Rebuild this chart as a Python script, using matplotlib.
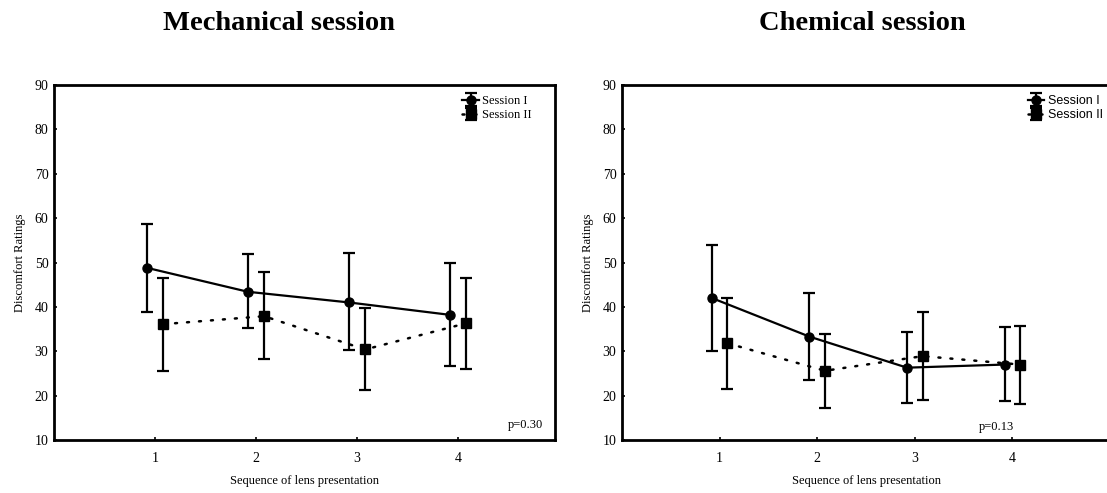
import matplotlib.pyplot as plt

plt.rcParams['font.family'] = ['Liberation Serif', 'DejaVu Serif']

# sequence positions
seq = [1, 2, 3, 4]

# Mechanical session (means, upper and lower ends of the bars)
mech_s1 = [48.8, 43.4, 41.0, 38.2]
mech_s1_hi = [58.6, 51.9, 52.1, 49.8]
mech_s1_lo = [38.9, 35.2, 30.2, 26.7]
mech_s2 = [36.1, 37.9, 30.4, 36.3]
mech_s2_hi = [46.6, 47.8, 39.7, 46.6]
mech_s2_lo = [25.5, 28.2, 21.3, 26.1]

# Chemical session
chem_s1 = [42.0, 33.3, 26.3, 27.0]
chem_s1_hi = [54.0, 43.1, 34.3, 35.4]
chem_s1_lo = [30.0, 23.5, 18.4, 18.7]
chem_s2 = [31.8, 25.6, 28.9, 27.0]
chem_s2_hi = [42.1, 33.9, 38.9, 35.8]
chem_s2_lo = [21.5, 17.2, 19.0, 18.1]

titles = ["Mechanical session", "Chemical session"]
pvals = ["p=0.30", "p=0.13"]
yticks = [10, 20, 30, 40, 50, 60, 70, 80, 90]

W, H = 1107, 493
fig = plt.figure(figsize=(W / 100, H / 100), dpi=100)
ax1 = fig.add_axes([54 / W, 1 - 440 / H, 501 / W, 355 / H])
ax2 = fig.add_axes([622 / W, 1 - 440 / H, 488 / W, 355 / H])

panels = [
    (ax1, mech_s1, mech_s1_lo, mech_s1_hi, mech_s2, mech_s2_lo, mech_s2_hi, 4.96, 532),
    (ax2, chem_s1, chem_s1_lo, chem_s1_hi, chem_s2, chem_s2_lo, chem_s2_hi, 5.0, 1103),
]

for i, (ax, s1, s1lo, s1hi, s2, s2lo, s2hi, xmax, legx) in enumerate(panels):
    off = 0.08
    x1 = [v - off for v in seq]
    x2 = [v + off for v in seq]
    e1 = [[m - l for m, l in zip(s1, s1lo)], [h - m for m, h in zip(s1, s1hi)]]
    e2 = [[m - l for m, l in zip(s2, s2lo)], [h - m for m, h in zip(s2, s2hi)]]
    c1 = ax.errorbar(x1, s1, yerr=e1, color='black', lw=1.6, marker='o', ms=6.5,
                     capsize=4, capthick=1.6, elinewidth=1.6)
    c2 = ax.errorbar(x2, s2, yerr=e2, color='black', lw=1.8, ls=(0, (0.8, 4)),
                     marker='s', ms=6.5, capsize=4, capthick=1.6, elinewidth=1.6,
                     dash_capstyle='round')
    ax.set_xlim(0, xmax)
    ax.set_ylim(10, 90)
    ax.set_xticks(seq)
    ax.set_yticks(yticks)
    ax.tick_params(labelsize=10, length=2, width=1.2, direction='in')
    ax.tick_params(axis='x', pad=9)
    ax.tick_params(axis='y', pad=4)
    for sp in ax.spines.values():
        sp.set_linewidth(2)
    ax.set_ylabel("Discomfort Ratings", fontsize=9, labelpad=6)
    ax.set_xlabel("Sequence of lens presentation", fontsize=9, labelpad=7)

    legfam = ['Liberation Serif'] if i == 0 else ['Liberation Sans']
    ax.legend([c1, c2], ["Session I", "Session II"], loc='upper right',
              bbox_to_anchor=(legx / W, 1 - 95 / H), bbox_transform=fig.transFigure,
              frameon=False, prop={'family': legfam, 'size': 9},
              handlelength=1.3, handletextpad=0.3, labelspacing=0.2,
              borderaxespad=0, borderpad=0)

fig.text(163 / W, 1 - 24 / H, titles[0], fontsize=20.5, fontweight='bold',
         ha='left', va='center')
fig.text(862 / W, 1 - 24 / H, titles[1], fontsize=20.5, fontweight='bold',
         ha='center', va='center')

ax1.text(4.67, 13.4, pvals[0], fontsize=9, ha='center', va='center')
ax2.text(3.84, 13.0, pvals[1], fontsize=9, ha='center', va='center')

fig.savefig('out.png', dpi=100)
